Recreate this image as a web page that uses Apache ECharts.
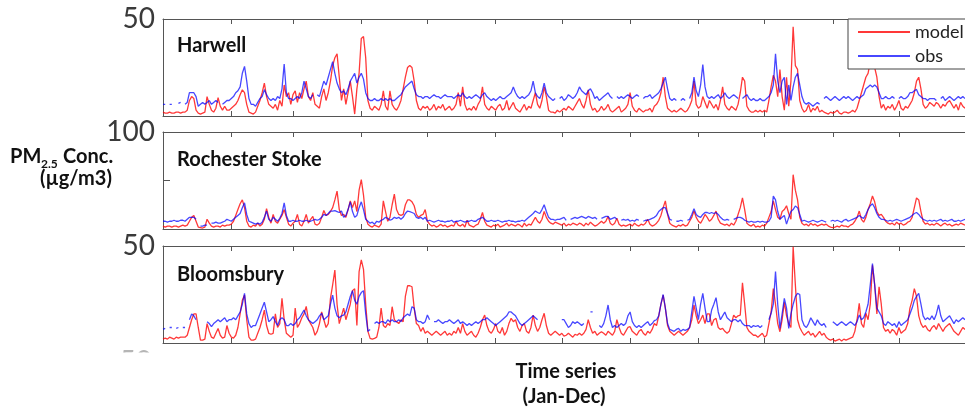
<!DOCTYPE html>
<html>
<head>
<meta charset="utf-8">
<script src="https://cdn.jsdelivr.net/npm/echarts@6/dist/echarts.min.js"></script>
<style>
html, body { margin: 0; padding: 0; background: #fff; }
#main { width: 965px; height: 408px; }
</style>
</head>
<body>
<div id="main"></div>
<script>
// daily PM2.5, one value per day of the year (null = missing obs)
var harwellModel = [
    2,1.5,1.5,2,1.5,1.5,2,2,1.5,2,
    2,3,8,10,9,3,1.5,1,1.5,2,
    10,6,3,2,4,9.5,5,3,5,3,
    3,4,5,6,8,11,13.5,12,6,2,
    1.5,1,2,5,8,12,17,10,6,5,
    4,6,3,8,5,16,10,12,6,11,
    13,7,12,9,14,18,10,8,12,6,
    5,4,10,14,8,12,18,26,30,32,
    20,8,14,6,12,18,10,1,14,22,
    40,41,30,8,4,3,5,4,3,6,
    13,5,3,13,6,4,3,5,8,14,
    20,25,26,25,18,8,4,3,5,4,
    5,3,4,6,3,5,4,6,3,4,
    5,3,4,6,12,5,15,6,3,4,
    3,5,3,6,8,15,6,4,3,5,
    4,3,5,6,3,4,8,3,5,7,
    4,3,2,4,6,3,5,4,8,12,
    6,4,8,15,10,3,2,2,1.5,3,
    2,3,4,3,5,4,3,5,7,9,
    6,4,8,13.5,6,3,4,2,3,5,
    3,4,6,3,2,3,4,5,2,3,
    4,6,12,5,3,2,4,3,2,3,
    3,4,2,5,6,8,12,20,10,4,
    3,2,3,2,3,4,3,2,3,5,
    8,18,6,4,5,10,7,4,8,6,
    4,6,3,8,15,6,4,3,5,4,
    3,6,12,20,18,5,3,2,2,3,
    2,3,2,3,2,8,15,21,18,10,
    24,10,3,20,5,18,46,26,24,8,
    4,2,3,6,2,4,3,5,2,3,
    2,1.5,1,2,1.5,2,3,1.5,1,2,
    2,1.5,2,3,2,4,8,12,16,20,
    22,28,33,25,20,10,4,6,3,5,
    4,6,3,5,8,4,3,5,4,6,
    8,12,18,20,14,6,4,5,7,6,
    5,7,6,4,6,5,7,8,6,4,
    6,3,7,5,4
];
var harwellObs = [
    6,6,null,6,6,null,null,6.5,7,null,
    6,7,12,12,12,10,5,6,7,6,
    7,8,6,7,8,7,null,6,7,8,
    8,9,10,12,13,15,22,25.6,18,9,
    6,6,5,7,9,10,13.6,11,9,8,
    9,8,10,9,14,26.8,12,9,9,8,
    9,10,9,12,18,14,10,9,11,null,
    11,10,14,18,16,20,24,28,22,17,
    14,12,13,11,14,18,20,22,17,20,
    22,19,12,9,8,8,9,8,8,9,
    8,9,8,9,8,8,9,10,11,13,
    15,16,17,18,14,11,10,10,9,10,
    10,9,10,11,10,10,9,10,11,10,
    10,10,9,10,11,10,12,10,9,10,
    9,10,11,10,9,11,12,10,9,8,
    9,8,9,10,9,9,10,11,12,15,
    12,10,9,10,9,10,11,13,18,12,
    10,9,12,17,12,10,9,8,9,null,
    9,10,8,9,11,10,9,10,12,15,
    13,12,11,13,14,12,9,10,8,9,
    10,11,12,10,9,null,10,9,10,9,
    10,11,10,9,10,11,10,null,9,10,
    10,11,9,10,11,12,14,17,20,14,
    9,8,9,8,null,8,9,8,null,9,
    12,20,13,10,16,26.5,15,10,9,10,
    9,10,11,9,10,12,10,9,10,11,
    10,9,null,9,10,11,9,8,9,8,
    8,9,8,8,9,10,12,16,32,18,
    12,18,20,6,16,8,15,20,22,16,
    10,7,6,7,6,5,6,7,6,null,
    9,10,9,8,9,10,9,8,9,10,
    9,10,9,8,9,10,9,10,11,14,
    15,16,15,16,15,12,9,9,10,9,
    9,10,9,null,9,10,9,9,10,12,
    12,13,13.7,11,10,9,9,8,9,9,
    9,8,null,9,10,8,9,10,9,8,
    9,10,9,10,9
];
var rochesterModel = [
    3,2,3,3,2,3,3,2,3,4,
    3,4,8,12,14,8,2,1.5,1,2,
    10,6,3,2,3,3,2,4,3,4,
    4,5,8,14,20,26,30,22,8,3,
    2,4,3,6,3,5,10,21,12,6,
    15,8,6,10,14,20,12,5,3,6,
    8,15,5,3,8,15,6,10,13,5,
    4,6,12,19,14,15,18,22,30,39,
    20,14,15,12,20,29,22,29,18,40,
    51,35,12,5,3,2,4,3,2,5,
    29,18,8,12,25,36,20,15,14,15,
    25,30,30,28,24,15,12,14,15,20,
    8,5,3,4,2,3,5,3,4,2,
    3,4,3,8,4,3,5,2,9,4,
    3,2,4,5,10,17,8,4,3,2,
    4,3,5,2,3,4,6,3,5,4,
    3,5,4,2,6,3,5,4,8,12,
    8,6,10,18,12,8,6,5,7,6,
    5,4,6,3,5,4,6,5,4,6,
    5,3,6,4,7,5,3,4,6,8,
    6,8,13,6,4,6,11,5,3,4,
    3,4,5,3,6,4,3,5,4,6,
    10,5,3,4,6,9,14,22,29,15,
    6,4,3,2,4,3,5,3,4,8,
    12,18.5,12,8,6,10,15,12,8,10,
    14,18.5,10,6,5,4,5,3,6,4,
    8,15,22,32,20,6,4,3,5,2,
    3,2,4,3,6,12,18,29,20,12,
    10,18,20,24,16,10,56,40,30,12,
    6,4,5,3,6,4,5,3,4,5,
    4,5,3,2,1.5,2,3,2,4,3,
    3,2,4,5,8,12,18.5,10,7,12,
    20,26,34,28,18,14,15,12,8,6,
    5,6,4,7,5,6,4,5,7,8,
    12,22,32,30,18,8,5,6,4,5,
    4,6,5,3,5,6,4,5,3,4,
    5,4,6,5,4
];
var rochesterObs = [
    8,8,7,8,8,9,8,8,9,9,
    8,10,12,12,12,10,null,3,3,4,
    4,null,6,6,7,6,6,7,8,10,
    9,8,10,12,14,16,22,27,15,8,
    7,6,5,6,5,7,12,18.5,10,8,
    12,10,8,11,16,27,14,8,8,9,
    8,8,9,8,8,9,8,8,9,10,
    9,10,12,15,14,16,18.5,18.5,19,18,
    17,18.5,12,14,20,28,18,12,14,22,
    28,20,10,8,6,7,5,8,7,9,
    10,12,11,9,10,12,11,12,10,12,
    16,18.5,18,17,16,12,11,12,10,12,
    8,9,8,7,8,9,8,8,7,8,
    8,9,7,8,8,9,8,7,8,8,
    9,8,8,10,11,12,10,8,8,9,
    8,8,9,8,7,8,8,9,8,8,
    7,8,8,9,8,10,12,14,16,18.5,
    17,16,20,25,18,12,10,10,9,10,
    10,11,12,9,null,10,11,12,11,12,
    13,12,11,13,12,11,12,10,null,11,
    12,13,13,10,11,12,10,null,9,10,
    9,10,8,9,8,10,9,null,8,9,
    9,10,11,12,14,18,20,22,22,16,
    10,9,null,8,8,9,8,null,9,10,
    15,21,15,13,12,15,17,17,16,17,
    16,17,15,12,10,9,10,9,null,10,
    11,12,12,11,9,8,7,8,7,7,
    8,7,8,7,7,8,12,34,30,18,
    10,12,14,5,12,18,20,23.7,22,15,
    8,9,8,7,8,9,8,7,8,9,
    8,7,null,8,9,8,9,8,7,9,
    10,8,9,10,11,12,14,12,11,15,
    20,24,26,22,16,12,10,10,9,8,
    9,8,9,10,9,8,9,10,11,12,
    14,16,17,15,12,10,9,8,9,8,
    9,8,9,10,8,9,8,9,10,8,
    8,9,8,9,10
];
var bloomsburyModel = [
    2,2.5,2,3,2.5,2,3,2.5,3,3,
    3,4,8,12,15,15,8,1.5,1.5,2,
    10,6,3,2.4,5,7.5,4,2.5,3,9,
    5,3,2.5,4,8,15,22,24.7,12,3,
    1.5,1.5,2,5,8,12,17,9,5,4.5,
    5,15,8,10,23,12,5,4,3,4,
    18,8,10,13,15,18.9,12,10,8,4,
    6,10,16,12,8,10,23,30,37.6,20,
    10,14,18,12,16,20,27,28,9,36.8,
    42.8,38,20,6,2.4,2,2.4,3,8,18,
    9,8,10,9,18.7,12,11,10,12,11,
    24,29.5,29.5,29,18,10,9,6,8,5,
    6,5,4,5,6,5,4,5,6,4,
    5,4,6,5,8,5,10,6,4,5,
    6,4,3,5,8,12,14.4,9,6,5,
    7,10,6,5,8,4,6,10,12.7,11,
    12,8,6,9,10,6,5,8,14.4,9,
    6,8,12,15.3,9,5,4,5,6,5,
    4,5,3.5,4,5,4,3,4.5,4,5,
    4,5,7,12,8,5,6,4,5,5.8,
    5,4,6,5,4,6,12,8,5,4,
    6,8,8.4,6,5,4,6,7,5,4,
    6,5,7,10,9,14,20,24.7,18,9,
    6,5,4,5,6,5,4,5,6,8,
    12,19.6,14,10,12,14.4,10,15,15,9,
    12,12.7,8,7,7.5,6,5,6,10,14.4,
    13,14,14.4,31,20,8,6,5,4,4,
    3,4,5,3,4,10,16,28,20,10,
    5.8,12,21,14,10,8,49.6,30,12,8,
    5.8,4,5,6,4,5,3,4.5,6,4,
    5,3,2,1.5,2,1,1.5,2,1,2,
    1.5,2,2.5,3,6,12,20.4,10,8,15.3,
    12,20,40,30,15,29,20,8,6,7,
    5,7,6,4,8,5,6,7,10,18,
    22,28,24,14,10,8,9,7,6,8,
    9,7,10,8,6,8,9,10,8,6,
    5,4,6,8,7
];
var bloomsburyObs = [
    7,7.5,null,8,8,null,7.5,8,null,8,
    8,null,12,15,14,12,null,null,null,null,
    11,10,8.4,10,11,12,11,12,13,11,
    12,12,13,12,14,16,20,25.6,15,10,
    8,9,9,12,15,18,21,16,11,12,
    13.6,11,9,12,13,12,9,9,10,9,
    10,12,13,15,17,14,12,11,10,11,
    12,14,15.3,12,13,14,20,24.7,18,14,
    13,14,14.4,16,20,24,27,22,20,24,
    26,27,15,6,7,null,10,11,10,11,
    11,10,12,11,12,11,11,12,11,13,
    14,15,14,18.7,18,12,11,11,10,11,
    14.4,12,null,11,11,12,11,10,11,11,
    12,11,10,11,12,10,11,10,9,10,
    9,10,11,10,11,12,12,13,12,11,
    10,9,10,11,12,13,14,16,16,15,
    14,12,10,9,10,11,12,13,14,13,
    12,null,null,null,null,null,null,null,null,null,
    null,12,12,10,8,9,11,10,11,10,
    9,10,null,null,16,16,null,null,9,8,
    10,14,19.6,12,8,9,8,9,10,9,
    10,14,16,11,9,8,9,8,9,10,
    11,9,10,11.5,12,14,20,25,18,10,
    7,6.5,6,7,7.5,6,7,6.5,7,8,
    16,24,18,12,20,25.6,18,11,11,17,
    20,23.4,16,12,14,16,13,12,11,12,
    12,11,12,10,9,9,9,8,9,8.5,
    9,8,9,null,null,12,15.3,20,36.8,20,
    7.5,15,23,18,7.5,15,20,23.9,25.6,25,
    12,9,8,10,13,11,9,12,10,9,
    10,8,null,null,11,10,9,10,11,10,
    9,10,11,10,9,11,14.4,12,13,16,
    20,30,41,30,18,16,14,10,9,11,
    10,9,10,8,11,9,10,11,12,15,
    18,22,24,25.6,20,14,12,13,12,14,
    12,15,19.6,14,11,12,13,14,12,10,
    12,11,12,13,12
];

var siteNames = ['Harwell', 'Rochester Stoke', 'Bloomsbury'];
var yMax = [50, 100, 50];
var yStep = [50, 50, 50];

// day labels for a non-leap year
var days = [];
for (var i = 0; i < 365; i++) {
    var d = new Date(2015, 0, 1 + i);
    days.push((d.getMonth() + 1) + '/' + d.getDate());
}
function monthStart(idx, val) {
    return /\/1$/.test(val);
}

var panelTop = [19, 132, 246];
var panelH = 97;
var modelData = [harwellModel, rochesterModel, bloomsburyModel];
var obsData = [harwellObs, rochesterObs, bloomsburyObs];
var axisGrey = '#555';
var fontName = 'Lato, "Open Sans", sans-serif';
var redLine = 'rgba(255,0,0,0.78)';
var blueLine = 'rgba(0,0,255,0.72)';

var grid = [], xAxis = [], yAxis = [], series = [];
for (var p = 0; p < 3; p++) {
    grid.push({left: 163, right: -8, top: panelTop[p], height: panelH});
    ['bottom', 'top'].forEach(function (pos) {
        xAxis.push({
            type: 'category',
            gridIndex: p,
            position: pos,
            data: days,
            boundaryGap: false,
            axisLine: {show: true, onZero: false, lineStyle: {color: axisGrey, width: 1}},
            axisTick: {show: true, inside: true, length: 5, interval: monthStart, lineStyle: {color: axisGrey}},
            axisLabel: {show: false},
            splitLine: {show: false}
        });
    });
    (function (mx) {
        yAxis.push({
            type: 'value',
            gridIndex: p,
            min: 0,
            max: mx,
            interval: yStep[p],
            axisLine: {show: true, lineStyle: {color: axisGrey, width: 1}},
            axisTick: {show: true, inside: true, length: 7, lineStyle: {color: axisGrey}},
            splitLine: {show: false},
            axisLabel: {
                margin: 8,
                fontSize: 28,
                fontFamily: fontName,
                color: '#3a3a3a',
                formatter: function (v) { return v === mx ? String(mx) : ''; }
            }
        });
    })(yMax[p]);
    series.push({
        name: 'model',
        type: 'line',
        xAxisIndex: 2 * p,
        yAxisIndex: p,
        data: modelData[p],
        symbol: 'none',
        connectNulls: false,
        lineStyle: {color: redLine, width: 1.3},
        itemStyle: {color: redLine}
    });
    series.push({
        name: 'obs',
        type: 'line',
        xAxisIndex: 2 * p,
        yAxisIndex: p,
        data: obsData[p],
        symbol: 'none',
        connectNulls: false,
        lineStyle: {color: blueLine, width: 1.3},
        itemStyle: {color: blueLine}
    });
}

var graphic = [];
var titleY = [46, 160, 275];
for (var t = 0; t < 3; t++) {
    graphic.push({
        type: 'text',
        style: {x: 177, y: titleY[t], text: siteNames[t], font: 'bold 20px ' + fontName, fill: '#111', verticalAlign: 'middle'}
    });
}
// y axis title with subscript
graphic.push({type: 'text', style: {x: 10, y: 157, text: 'PM', font: 'bold 20px ' + fontName, fill: '#111', verticalAlign: 'middle'}});
graphic.push({type: 'text', style: {x: 41, y: 164, text: '2.5', font: 'bold 12px ' + fontName, fill: '#111', verticalAlign: 'middle'}});
graphic.push({type: 'text', style: {x: 63, y: 157, text: 'Conc.', font: 'bold 20px ' + fontName, fill: '#111', verticalAlign: 'middle'}});
graphic.push({type: 'text', style: {x: 76, y: 179, text: '(µg/m3)', font: 'bold 20px ' + fontName, fill: '#111', align: 'center', verticalAlign: 'middle'}});
// x axis title
graphic.push({type: 'text', style: {x: 566, y: 372, text: 'Time series', font: 'bold 20px ' + fontName, fill: '#111', align: 'center', verticalAlign: 'middle'}});
graphic.push({type: 'text', style: {x: 564, y: 397, text: '(Jan-Dec)', font: 'bold 20px ' + fontName, fill: '#111', align: 'center', verticalAlign: 'middle'}});
// cropped tick label under the last panel
graphic.push({type: 'text', z: 100, style: {x: 152, y: 362, text: '50', font: '28px ' + fontName, fill: '#b5b5b5', align: 'right', verticalAlign: 'middle'}});
graphic.push({type: 'rect', z: 101, shape: {x: 100, y: 352.5, width: 60, height: 56}, style: {fill: '#fff'}});

var option = {
    animation: false,
    backgroundColor: '#fff',
    grid: grid,
    xAxis: xAxis,
    yAxis: yAxis,
    legend: {
        data: ['model', 'obs'],
        orient: 'vertical',
        left: 848,
        top: 19,
        icon: 'rect',
        itemWidth: 52,
        itemHeight: 2,
        itemGap: 6,
        padding: [4, 60, 4, 10],
        borderColor: '#444',
        borderWidth: 1,
        backgroundColor: '#fff',
        textStyle: {fontSize: 18, fontFamily: fontName, color: '#222'}
    },
    series: series,
    graphic: graphic
};

var myChart = echarts.init(document.getElementById('main'));
myChart.setOption(option);
</script>
</body>
</html>
